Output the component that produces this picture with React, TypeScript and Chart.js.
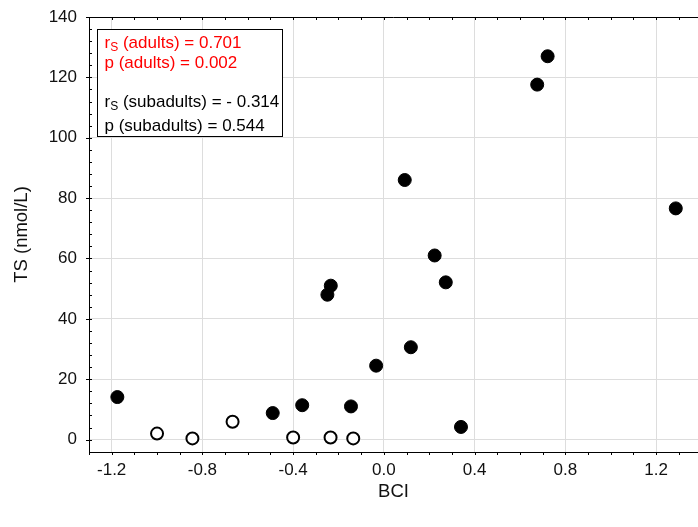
import React, { useEffect, useRef } from "react";
import { Chart, registerables } from "chart.js";

Chart.register(...registerables);

// ---- data ----
const adultsBCI = [-1.175, -0.49, -0.36, -0.145, -0.249, -0.234, -0.034, 0.092, 0.119, 0.224, 0.273, 0.34, 0.676, 0.722, 1.287];
const adultsTS = [14.1, 8.8, 11.4, 11.0, 48.0, 51.0, 24.5, 86.0, 30.6, 61.0, 52.1, 4.2, 117.6, 127.0, 76.6];
const subadultsBCI = [-1.0, -0.844, -0.667, -0.4, -0.235, -0.135];
const subadultsTS = [2.0, 0.4, 5.9, 0.7, 0.7, 0.4];

const xTicks = [-1.2, -0.8, -0.4, 0.0, 0.4, 0.8, 1.2];
const yTicks = [0, 20, 40, 60, 80, 100, 120, 140];
const xMinorStep = 0.1;
const yMinorStep = 4;

const legendLines = [
  { sub: true, text: " (adults) = 0.701", color: "#ff0000" },
  { sub: false, text: "p (adults) = 0.002", color: "#ff0000" },
  null,
  { sub: true, text: " (subadults) = - 0.314", color: "#000000" },
  { sub: false, text: "p (subadults) = 0.544", color: "#000000" },
];

const FONT = "Arial, 'Liberation Sans', sans-serif";

const decorPlugin = {
  id: "decor",
  afterDatasetsDraw(chart: any) {
    const ctx = chart.ctx;
    const xs = chart.scales.x;
    const ys = chart.scales.y;
    const ca = chart.chartArea;
    ctx.save();
    ctx.strokeStyle = "#000";
    ctx.lineWidth = 1;
    // top border
    ctx.beginPath();
    ctx.moveTo(ca.left, Math.round(ca.top) + 0.5);
    ctx.lineTo(ca.right, Math.round(ca.top) + 0.5);
    ctx.stroke();
    // minor ticks x (bottom outward, top inward)
    ctx.beginPath();
    const x0 = Math.ceil(xs.min / xMinorStep);
    const x1 = Math.floor(xs.max / xMinorStep);
    for (let i = x0; i <= x1; i++) {
      const px = Math.round(xs.getPixelForValue(i * xMinorStep)) + 0.5;
      ctx.moveTo(px, ca.bottom);
      ctx.lineTo(px, ca.bottom + 3);
      ctx.moveTo(px, ca.top);
      ctx.lineTo(px, ca.top + 3);
    }
    // minor ticks y (left, inward)
    const y0 = Math.ceil(ys.min / yMinorStep);
    const y1 = Math.floor(ys.max / yMinorStep);
    for (let i = y0; i <= y1; i++) {
      const py = Math.round(ys.getPixelForValue(i * yMinorStep)) + 0.5;
      ctx.moveTo(ca.left, py);
      ctx.lineTo(ca.left + 3, py);
    }
    for (const v of yTicks) {
      const py = Math.round(ys.getPixelForValue(v)) + 0.5;
      ctx.moveTo(ca.left - 3, py);
      ctx.lineTo(ca.left, py);
    }
    ctx.stroke();

    // legend box
    const fs = 17;
    const subFs = 12;
    let maxW = 0;
    for (const l of legendLines) {
      if (!l) continue;
      ctx.font = `${fs}px ${FONT}`;
      let w = ctx.measureText(l.sub ? "r" + l.text : l.text).width;
      if (l.sub) {
        ctx.font = `${subFs}px ${FONT}`;
        w += ctx.measureText("S").width;
      }
      maxW = Math.max(maxW, w);
    }
    const bx = Math.round(ca.left + 8) + 0.5;
    const by = Math.round(ca.top + 12) + 0.5;
    const bw = Math.round(maxW + 10);
    const bh = 107;
    ctx.fillStyle = "#fff";
    ctx.fillRect(bx, by, bw, bh);
    ctx.strokeRect(bx, by, bw, bh);
    const lineYs = [14, 34, 73, 97];
    ctx.textBaseline = "middle";
    ctx.textAlign = "left";
    let k = 0;
    legendLines.forEach((l) => {
      if (!l) return;
      const cy = by + lineYs[k++];
      let tx = bx + 7;
      ctx.fillStyle = l.color;
      ctx.font = `${fs}px ${FONT}`;
      if (l.sub) {
        ctx.fillText("r", tx, cy);
        tx += ctx.measureText("r").width;
        ctx.font = `${subFs}px ${FONT}`;
        ctx.fillText("S", tx, cy + 4);
        tx += ctx.measureText("S").width;
        ctx.font = `${fs}px ${FONT}`;
      }
      ctx.fillText(l.text, tx, cy);
    });
    ctx.restore();
  },
};

export default function App() {
  const ref = useRef<HTMLCanvasElement | null>(null);
  useEffect(() => {
    if (!ref.current) return;
    const chart = new Chart(ref.current, {
      type: "scatter",
      data: {
        datasets: [
          {
            label: "subadults",
            data: subadultsBCI.map((x, i) => ({ x, y: subadultsTS[i] })),
            backgroundColor: "#ffffff",
            borderColor: "#000000",
            borderWidth: 2,
            pointRadius: 6,
          },
          {
            label: "adults",
            data: adultsBCI.map((x, i) => ({ x, y: adultsTS[i] })),
            backgroundColor: "#000000",
            borderColor: "#000000",
            borderWidth: 1,
            pointRadius: 6.5,
          },
        ],
      },
      options: {
        animation: false,
        responsive: false,
        maintainAspectRatio: false,
        layout: { autoPadding: false, padding: { top: 17, right: 0, left: 0, bottom: 0 } },
        plugins: { legend: { display: false }, tooltip: { enabled: false } },
        scales: {
          x: {
            type: "linear",
            min: -1.3,
            max: 1.385,
            afterBuildTicks: (s: any) => {
              s.ticks = xTicks.map((v) => ({ value: v }));
            },
            afterFit: (s: any) => {
              s.height = 75;
              s.paddingLeft = 0;
              s.paddingRight = 0;
            },
            grid: { color: "#dddddd", drawTicks: false },
            border: { display: true, color: "#000", width: 1 },
            ticks: {
              padding: 8,
              color: "#111",
              font: { family: FONT, size: 17 },
              callback: (v: any) => Number(v).toFixed(1),
            },
            title: {
              display: true,
              text: "BCI",
              color: "#111",
              font: { family: FONT, size: 18.5 },
              padding: { top: 0, bottom: 24 },
            },
          },
          y: {
            type: "linear",
            min: -4.1,
            max: 140,
            afterBuildTicks: (s: any) => {
              s.ticks = yTicks.map((v) => ({ value: v }));
            },
            afterFit: (s: any) => {
              s.width = 89;
              s.paddingTop = 0;
              s.paddingBottom = 0;
            },
            grid: { color: "#dddddd", drawTicks: false },
            border: { display: true, color: "#000", width: 1 },
            ticks: {
              padding: 12,
              color: "#111",
              font: { family: FONT, size: 17 },
              callback: (v: any) => String(v),
            },
            title: {
              display: true,
              text: "TS (nmol/L)",
              color: "#111",
              font: { family: FONT, size: 18.5 },
              padding: { top: 11, bottom: 0 },
            },
          },
        },
      },
      plugins: [decorPlugin],
    });
    return () => chart.destroy();
  }, []);
  return (
    <div style={{ position: "absolute", left: 0, top: 0, width: 698, height: 527, background: "#fff" }}>
      <canvas ref={ref} width={698} height={527} style={{ display: "block" }} />
    </div>
  );
}
